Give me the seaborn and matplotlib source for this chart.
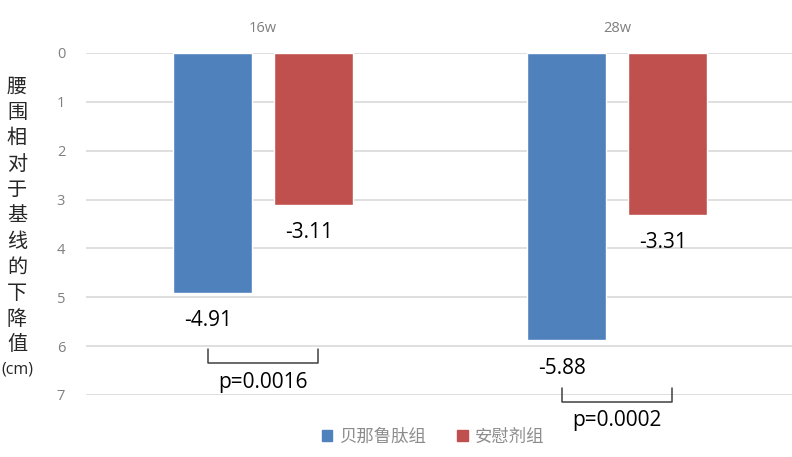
import seaborn as sns
import matplotlib.pyplot as plt
import pandas as pd
from matplotlib.patches import Patch

# data
periods = ['16w', '28w']
groups = ['贝那鲁肽组', '安慰剂组']
drug_drop = [4.91, 5.88]      # waist reduction, cm
placebo_drop = [3.11, 3.31]
p_values = ['p=0.0016', 'p=0.0002']
ylabel_chars = list('腰围相对于基线的下降值')

colors = ['#4F81BD', '#C0504D']
cjk = ['Noto Sans CJK SC', 'DejaVu Sans']

df = pd.DataFrame({
    'period': periods * 2,
    'group': [groups[0]] * 2 + [groups[1]] * 2,
    'drop': drug_drop + placebo_drop,
})

sns.set_style('white')
plt.rcParams['font.family'] = ['Open Sans', 'Noto Sans CJK SC', 'DejaVu Sans']

fig = plt.figure(figsize=(7.92, 4.57), dpi=100)
ax = fig.add_axes([86 / 792, 1 - 395 / 457, 1 - 86 / 792, (395 - 53) / 457])

sns.barplot(data=df, x='period', y='drop', hue='group', hue_order=groups,
            order=periods, palette=colors, width=0.571, gap=0.217,
            saturation=1, ax=ax, zorder=2)

ax.get_legend().remove()

ax.set_ylim(7, 0)
ax.set_xlim(-0.5, (792 - 86) / 354 - 0.5)
ax.set_yticks(range(0, 8))
ax.yaxis.grid(True, color='#D9D9D9', linewidth=1.2, zorder=0)
ax.set_axisbelow(True)
sns.despine(ax=ax, left=True, bottom=True)
ax.set_xlabel('')
ax.set_ylabel('')
ax.xaxis.tick_top()
ax.tick_params(axis='x', length=0, pad=12, labelsize=10.5, labelcolor='#7F7F7F')
ax.tick_params(axis='y', length=0, pad=15, labelsize=10.5, labelcolor='#7F7F7F')

# value labels under bars
for container in ax.containers:
    for bar in container:
        h = bar.get_height()
        ax.annotate('-{:.2f}'.format(h),
                    (bar.get_x() + bar.get_width() / 2, h),
                    xytext=(-3, -20), textcoords='offset points',
                    ha='center', va='center', fontsize=15, color='black')

# significance brackets
bracket_y = [(6.05, 6.34, 6.75), (6.85, 7.14, 7.53)]
for i, (p, (top, bot, ty)) in enumerate(zip(p_values, bracket_y)):
    x0, x1 = i - 0.155, i + 0.155
    ax.plot([x0, x0, x1, x1], [top, bot, bot, top], color='#404040',
            linewidth=1.1, clip_on=False, zorder=3)
    ax.text(i, ty, p, ha='center', va='center', fontsize=15,
            color='black', clip_on=False)

# stacked vertical y label
for k, ch in enumerate(ylabel_chars):
    fig.text(17 / 792, 1 - (87 + 25.8 * k) / 457, ch, ha='center',
             va='center', fontsize=14.5, family=cjk, color='#262626')
fig.text(17 / 792, 1 - 370 / 457, '(cm)', ha='center', va='center',
         fontsize=11.5, color='#262626')

leg_handles = [Patch(color=c) for c in colors]
fig.legend(leg_handles, groups, loc='center',
           bbox_to_anchor=(433 / 792, 1 - 437 / 457), ncol=2, frameon=False,
           handlelength=0.6, handleheight=0.6, handletextpad=0.4,
           columnspacing=1.8, prop={'family': cjk, 'size': 12.5},
           labelcolor='#8C8C8C')

fig.savefig('out.png', dpi=100)
